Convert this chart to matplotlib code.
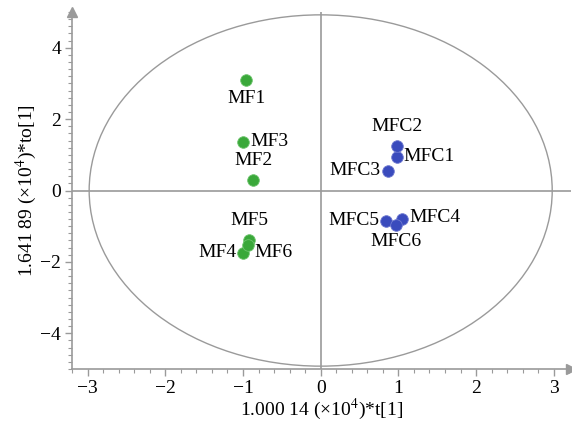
import numpy as np
import matplotlib
matplotlib.use("Agg")
import matplotlib.pyplot as plt
from matplotlib.patches import Ellipse
from matplotlib.ticker import MultipleLocator

# scores
mf_names = ["MF1", "MF2", "MF3", "MF4", "MF5", "MF6"]
mf_t = [-0.96, -0.87, -1.00, -1.00, -0.92, -0.94]
mf_to = [3.10, 0.30, 1.36, -1.74, -1.40, -1.54]

mfc_names = ["MFC1", "MFC2", "MFC3", "MFC4", "MFC5", "MFC6"]
mfc_t = [0.98, 0.98, 0.86, 1.05, 0.84, 0.97]
mfc_to = [0.95, 1.25, 0.56, -0.80, -0.85, -0.97]

# label offsets (points) and alignment for each sample
offsets = {
    "MF1": (0, -7, "center", "top"),
    "MF2": (0, 8, "center", "bottom"),
    "MF3": (5, 0, "left", "center"),
    "MF4": (-5, 0, "right", "center"),
    "MF5": (0, 8, "center", "bottom"),
    "MF6": (5, -5, "left", "center"),
    "MFC1": (5, 0, "left", "center"),
    "MFC2": (0, 8, "center", "bottom"),
    "MFC3": (-5, 0, "right", "center"),
    "MFC4": (5, 1, "left", "center"),
    "MFC5": (-5, 0, "right", "center"),
    "MFC6": (0, -6, "center", "top"),
}

plt.rcParams["font.family"] = ["Liberation Serif", "DejaVu Serif"]
plt.rcParams["font.size"] = 14
plt.rcParams["mathtext.fontset"] = "stix"

fig = plt.figure(figsize=(5.72, 4.21), dpi=100)
ax = fig.add_axes([0.126, 0.1235, 0.872, 0.848])

gray = "#9a9a9a"
ax.add_patch(Ellipse((0, 0), 2 * 2.98, 2 * 4.92, fill=False, ec=gray, lw=1.0))
ax.axhline(0, color=gray, lw=1.2, zorder=1)
ax.axvline(0, color=gray, lw=1.2, zorder=1)

ax.scatter(mf_t, mf_to, s=70, color="#3aa83a", edgecolors="#6cc46c", linewidths=0.6, zorder=3)
ax.scatter(mfc_t, mfc_to, s=70, color="#3a4bbd", edgecolors="#6f7ad0", linewidths=0.6, zorder=3)

for names, xs, ys in [(mf_names, mf_t, mf_to), (mfc_names, mfc_t, mfc_to)]:
    for n, x, y in zip(names, xs, ys):
        dx, dy, ha, va = offsets[n]
        ax.annotate(n, (x, y), xytext=(dx, dy), textcoords="offset points",
                    ha=ha, va=va, fontsize=14)

ax.set_xlim(-3.2, 3.22)
ax.set_ylim(-5, 5)
ax.xaxis.set_major_locator(MultipleLocator(1))
ax.xaxis.set_minor_locator(MultipleLocator(0.2))
ax.yaxis.set_major_locator(MultipleLocator(2))
ax.yaxis.set_minor_locator(MultipleLocator(0.2))

for side in ["top", "right"]:
    ax.spines[side].set_visible(False)
for side in ["left", "bottom"]:
    ax.spines[side].set_color(gray)
    ax.spines[side].set_linewidth(1.2)
ax.tick_params(which="major", length=5, color=gray, width=1, pad=3)
ax.tick_params(which="minor", length=3, color=gray, width=0.8)

# arrow heads at the axis ends
ax.plot(1, 0, ">", color=gray, ms=7, transform=ax.transAxes, clip_on=False)
ax.plot(0, 1, "^", color=gray, ms=7, transform=ax.transAxes, clip_on=False)

ax.set_xlabel("1.000 14 (\u00d710$^4$)*t[1]", labelpad=0)
ax.set_ylabel("1.641 89 (\u00d710$^4$)*to[1]", labelpad=1)

fig.savefig("out.png", dpi=100)
